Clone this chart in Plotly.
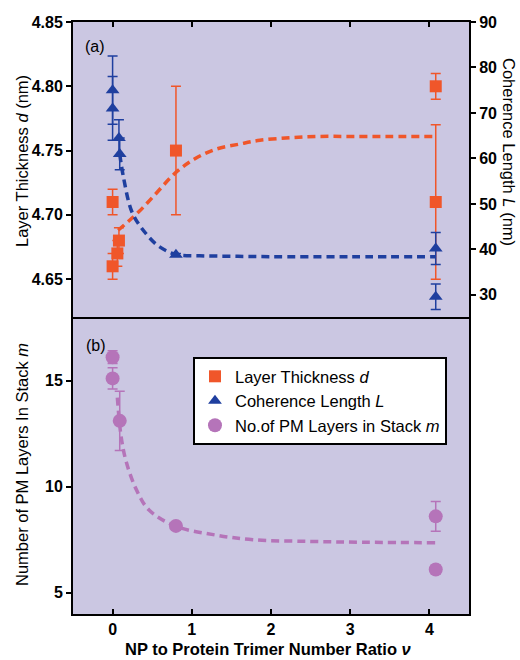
import plotly.graph_objects as go

# ---- data ----
thick_x = [0, 0, 0.06, 0.08, 0.8, 4.08, 4.08]
thick_y = [4.71, 4.66, 4.67, 4.68, 4.75, 4.80, 4.71]
thick_err = [0.01, 0.01, 0.01, 0.01, 0.05, 0.01, 0.06]

coh_x = [0, 0, 0.08, 0.09, 0.8, 4.08, 4.08]
coh_y = [75, 71, 64.5, 61, 38.8, 40.2, 29.6]
coh_err = [7.5, 7, 4, 3.5, 0.3, 3.5, 2.8]

layers_x = [0, 0, 0.09, 0.8, 4.08, 4.08]
layers_y = [16.1, 15.1, 13.1, 8.15, 8.6, 6.1]
layers_err = [0.3, 0.5, 1.4, 0.2, 0.7, 0.2]

thick_fit_x = [0.07, 0.2, 0.34, 0.51, 0.8, 1.05, 1.3, 1.6, 1.86, 2.24, 2.6, 3.0, 3.5, 4.08]
thick_fit_y = [4.688, 4.695, 4.703, 4.714, 4.733, 4.744, 4.751, 4.755, 4.758, 4.760, 4.761, 4.761, 4.761, 4.761]

coh_fit_x = [0.09, 0.14, 0.25, 0.42, 0.59, 0.8, 1.1, 1.5, 2.0, 3.0, 4.08]
coh_fit_y = [61, 55.6, 48, 43.5, 40.6, 38.9, 38.6, 38.5, 38.4, 38.4, 38.4]

layers_fit_x = [0.06, 0.106, 0.17, 0.3, 0.46, 0.8, 1.27, 1.77, 2.5, 3.2, 4.08]
layers_fit_y = [14.2, 12.4, 11.2, 9.86, 8.9, 8.13, 7.74, 7.5, 7.42, 7.38, 7.36]

x_ticks = [0, 1, 2, 3, 4]
d_ticks = [4.65, 4.70, 4.75, 4.80, 4.85]
L_ticks = [30, 40, 50, 60, 70, 80, 90]
m_ticks = [5, 10, 15]

ORANGE = "#f0562a"
BLUE = "#1f3f9f"
PURPLE = "#b574b9"
BG = "rgb(203,199,226)"
FONT = "Liberation Sans"

fig = go.Figure()

dash = "8px,5px"
fig.add_trace(go.Scatter(x=thick_fit_x, y=thick_fit_y, mode="lines", xaxis="x2", yaxis="y2",
                         line=dict(color=ORANGE, width=3.5, dash=dash, shape="spline"), showlegend=False))
fig.add_trace(go.Scatter(x=coh_fit_x, y=coh_fit_y, mode="lines", xaxis="x2", yaxis="y3",
                         line=dict(color=BLUE, width=3.5, dash=dash, shape="spline"), showlegend=False))
fig.add_trace(go.Scatter(x=layers_fit_x, y=layers_fit_y, mode="lines", xaxis="x", yaxis="y",
                         line=dict(color=PURPLE, width=3.5, dash=dash, shape="spline"), showlegend=False))

fig.add_trace(go.Scatter(x=thick_x, y=thick_y, mode="markers", xaxis="x2", yaxis="y2",
                         name="Layer Thickness <i>d</i>",
                         marker=dict(symbol="square", size=12, color=ORANGE),
                         error_y=dict(type="data", array=thick_err, color=ORANGE, thickness=1.5, width=5)))
fig.add_trace(go.Scatter(x=coh_x, y=coh_y, mode="markers", xaxis="x2", yaxis="y3",
                         name="Coherence Length <i>L</i>",
                         marker=dict(symbol="triangle-up", size=12, color=BLUE),
                         error_y=dict(type="data", array=coh_err, color=BLUE, thickness=1.5, width=5)))
fig.add_trace(go.Scatter(x=layers_x, y=layers_y, mode="markers", xaxis="x", yaxis="y",
                         name="No.of PM Layers in Stack <i>m</i>",
                         marker=dict(symbol="circle", size=14, color=PURPLE),
                         error_y=dict(type="data", array=layers_err, color=PURPLE, thickness=1.5, width=5)))

tickfont = dict(family=FONT, size=16, color="black", weight="bold")
split = 295 / 592
common = dict(showline=True, linewidth=2, linecolor="black", showgrid=False, zeroline=False,
              ticklen=5, tickwidth=2, tickcolor="black", tickfont=tickfont)

fig.update_layout(
    width=520, height=660,
    margin=dict(l=73, r=51, t=22, b=46),
    paper_bgcolor="white", plot_bgcolor=BG,
    font=dict(family=FONT, color="black"),
    xaxis=dict(domain=[0, 1], anchor="y", range=[-0.5, 4.5], tickvals=x_ticks, ticks="inside",
               mirror=True, **common),
    xaxis2=dict(domain=[0, 1], anchor="y2", range=[-0.5, 4.5], tickvals=x_ticks, ticks="inside",
                side="top", showticklabels=False, mirror=False, **common),
    yaxis=dict(domain=[0, split], anchor="x", range=[4.0, 17.9], tickvals=m_ticks, ticks="outside",
               mirror=True, **common),
    yaxis4=dict(overlaying="y", anchor="x", side="right", range=[4.0, 17.9], tickvals=m_ticks,
                ticks="inside", showticklabels=False, showline=False, showgrid=False, zeroline=False,
                ticklen=5, tickwidth=2, tickcolor="black"),
    yaxis2=dict(domain=[split, 1], anchor="x2", range=[4.619, 4.85], tickvals=d_ticks,
                tickformat=".2f", ticks="outside", **common),
    yaxis3=dict(overlaying="y2", anchor="x2", side="right", range=[24.7, 90], tickvals=L_ticks,
                ticks="outside", **common),
    legend=dict(x=0.303, y=0.434, xanchor="left", yanchor="top", bgcolor="white",
                bordercolor="black", borderwidth=2, tracegroupgap=0,
                font=dict(family=FONT, size=16.5, color="black")),
)

def px(xp, yp):
    return (xp - 73) / 396, (614 - yp) / 592

annos = [
    ("Layer Thickness <i>d</i> (nm)", 22, 161, -90, 16.5, "normal"),
    ("Coherence Length <i>L</i> (nm)", 509, 152, 90, 16.5, "normal"),
    ("Number of PM Layers In Stack <i>m</i>", 22, 465, -90, 16.5, "normal"),
    ("NP to Protein Trimer Number Ratio <i>ν</i>", 268, 649, 0, 16.5, "bold"),
    ("(a)", 95, 47, 0, 16, "normal"),
    ("(b)", 96, 345, 0, 16, "normal"),
]
for text, xp, yp, ang, size, weight in annos:
    xx, yy = px(xp, yp)
    fig.add_annotation(text=text, x=xx, y=yy, xref="paper", yref="paper", showarrow=False,
                       textangle=ang, xanchor="center", yanchor="middle",
                       font=dict(family=FONT, size=size, color="black", weight=weight))

fig.write_html("out.html")
